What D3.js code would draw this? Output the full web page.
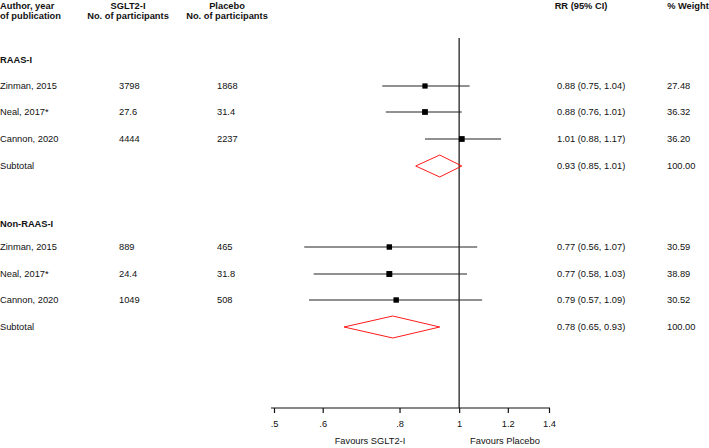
<!DOCTYPE html>
<html>
<head>
<meta charset="utf-8">
<script src="https://cdn.jsdelivr.net/npm/d3@7"></script>
<style>
  body { margin: 0; background: #fff; }
  text { font-family: "Liberation Sans", Arial, sans-serif; font-size: 9.3px; fill: #111; }
  .bold { font-weight: bold; }
</style>
</head>
<body>
<div id="chart"></div>
<script>
// groups and studies
let groups = ["RAAS-I", "Non-RAAS-I"];
let studies = ["Zinman, 2015", "Neal, 2017*", "Cannon, 2020"];
let sgltN = [["3798", "27.6", "4444"], ["889", "24.4", "1049"]];
let placeboN = [["1868", "31.4", "2237"], ["465", "31.8", "508"]];
let rr = [[0.88, 0.88, 1.01], [0.77, 0.77, 0.79]];
let lo = [[0.75, 0.76, 0.88], [0.56, 0.58, 0.57]];
let hi = [[1.04, 1.01, 1.17], [1.07, 1.03, 1.09]];
let weight = [["27.48", "36.32", "36.20"], ["30.59", "38.89", "30.52"]];
let subRR = [0.93, 0.78];
let subLo = [0.85, 0.65];
let subHi = [1.01, 0.93];
let ticks = [0.5, 0.6, 0.8, 1, 1.2, 1.4];
let tickLabels = [".5", ".6", ".8", "1", "1.2", "1.4"];

let width = 709, height = 448;

let svg = d3.select("#chart").append("svg")
    .attr("width", width)
    .attr("height", height);

let x = d3.scaleLog()
    .domain([0.5, 1.4])
    .range([274, 549]);

let rowY = [[86, 112, 139, 166], [247, 274, 300, 327]];
let groupY = [60, 224];
let axisY = 408;

// header
let hdr = svg.append("g");
hdr.append("text").attr("x", 0).attr("y", 9).attr("class", "bold").text("Author, year");
hdr.append("text").attr("x", 0).attr("y", 19).attr("class", "bold").text("of publication");
hdr.append("text").attr("x", 128).attr("y", 9).attr("class", "bold").attr("text-anchor", "middle").text("SGLT2-I");
hdr.append("text").attr("x", 128).attr("y", 19).attr("class", "bold").attr("text-anchor", "middle").text("No. of participants");
hdr.append("text").attr("x", 581).attr("y", 9).attr("class", "bold").attr("text-anchor", "middle").text("RR (95% CI)");
hdr.append("text").attr("x", 227).attr("y", 9).attr("class", "bold").attr("text-anchor", "middle").text("Placebo");
hdr.append("text").attr("x", 227).attr("y", 19).attr("class", "bold").attr("text-anchor", "middle").text("No. of participants");
hdr.append("text").attr("x", 688).attr("y", 9).attr("class", "bold").attr("text-anchor", "middle").text("% Weight");

// null line
svg.append("line")
    .attr("x1", x(1)).attr("x2", x(1))
    .attr("y1", 38).attr("y2", axisY)
    .attr("stroke", "#111").attr("stroke-width", 1.2);

let fmt = d3.format(".2f");

groups.forEach(function (g, gi) {
    svg.append("text").attr("class", "bold")
        .attr("x", 0).attr("y", groupY[gi] + 3).text(g);

    studies.forEach(function (s, i) {
        let y = rowY[gi][i];
        svg.append("text").attr("x", 0).attr("y", y + 3).text(s);
        svg.append("text").attr("x", 119).attr("y", y + 3).text(sgltN[gi][i]);
        svg.append("text").attr("x", 217).attr("y", y + 3).text(placeboN[gi][i]);
        svg.append("text").attr("x", 557).attr("y", y + 3)
            .text(fmt(rr[gi][i]) + " (" + fmt(lo[gi][i]) + ", " + fmt(hi[gi][i]) + ")");
        svg.append("text").attr("x", 667).attr("y", y + 3).text(weight[gi][i]);

        svg.append("line")
            .attr("x1", x(lo[gi][i])).attr("x2", x(hi[gi][i]))
            .attr("y1", y).attr("y2", y)
            .attr("stroke", "#222").attr("stroke-width", 1);

        let sz = 3.6 + (+weight[gi][i]) * 0.06;
        svg.append("rect")
            .attr("x", x(rr[gi][i]) - sz / 2).attr("y", y - sz / 2)
            .attr("width", sz).attr("height", sz)
            .attr("fill", "#000");
    });

    // subtotal
    let sy = rowY[gi][3];
    svg.append("text").attr("x", 0).attr("y", sy + 3).text("Subtotal");
    svg.append("text").attr("x", 557).attr("y", sy + 3)
        .text(fmt(subRR[gi]) + " (" + fmt(subLo[gi]) + ", " + fmt(subHi[gi]) + ")");
    svg.append("text").attr("x", 667).attr("y", sy + 3).text("100.00");

    let pts = [[x(subLo[gi]), sy], [x(subRR[gi]), sy - 11], [x(subHi[gi]), sy], [x(subRR[gi]), sy + 11]];
    svg.append("path")
        .attr("d", d3.line()(pts) + "Z")
        .attr("fill", "none")
        .attr("stroke", "#f00")
        .attr("stroke-width", 0.9);
});

// axis
let axis = d3.axisBottom(x)
    .tickValues(ticks)
    .tickFormat(function (d, i) { return tickLabels[i]; })
    .tickSize(5)
    .tickSizeOuter(0);

let ax = svg.append("g")
    .attr("transform", "translate(0," + axisY + ")")
    .call(axis);
ax.select(".domain").attr("stroke", "#111").attr("stroke-width", 1.2)
    .attr("d", "M" + (x(0.5) - 3) + ",0H" + (x(1.4) + 1));
ax.selectAll(".tick line").attr("stroke", "#111").attr("stroke-width", 1.2);
ax.selectAll(".tick text")
    .attr("dy", null).attr("y", 19)
    .style("font-family", "Liberation Sans, Arial, sans-serif")
    .style("font-size", "9.3px").attr("fill", "#111");

svg.append("text").attr("x", 370).attr("y", 444).attr("text-anchor", "middle").text("Favours SGLT2-I");
svg.append("text").attr("x", 505).attr("y", 444).attr("text-anchor", "middle").text("Favours Placebo");
</script>
</body>
</html>
